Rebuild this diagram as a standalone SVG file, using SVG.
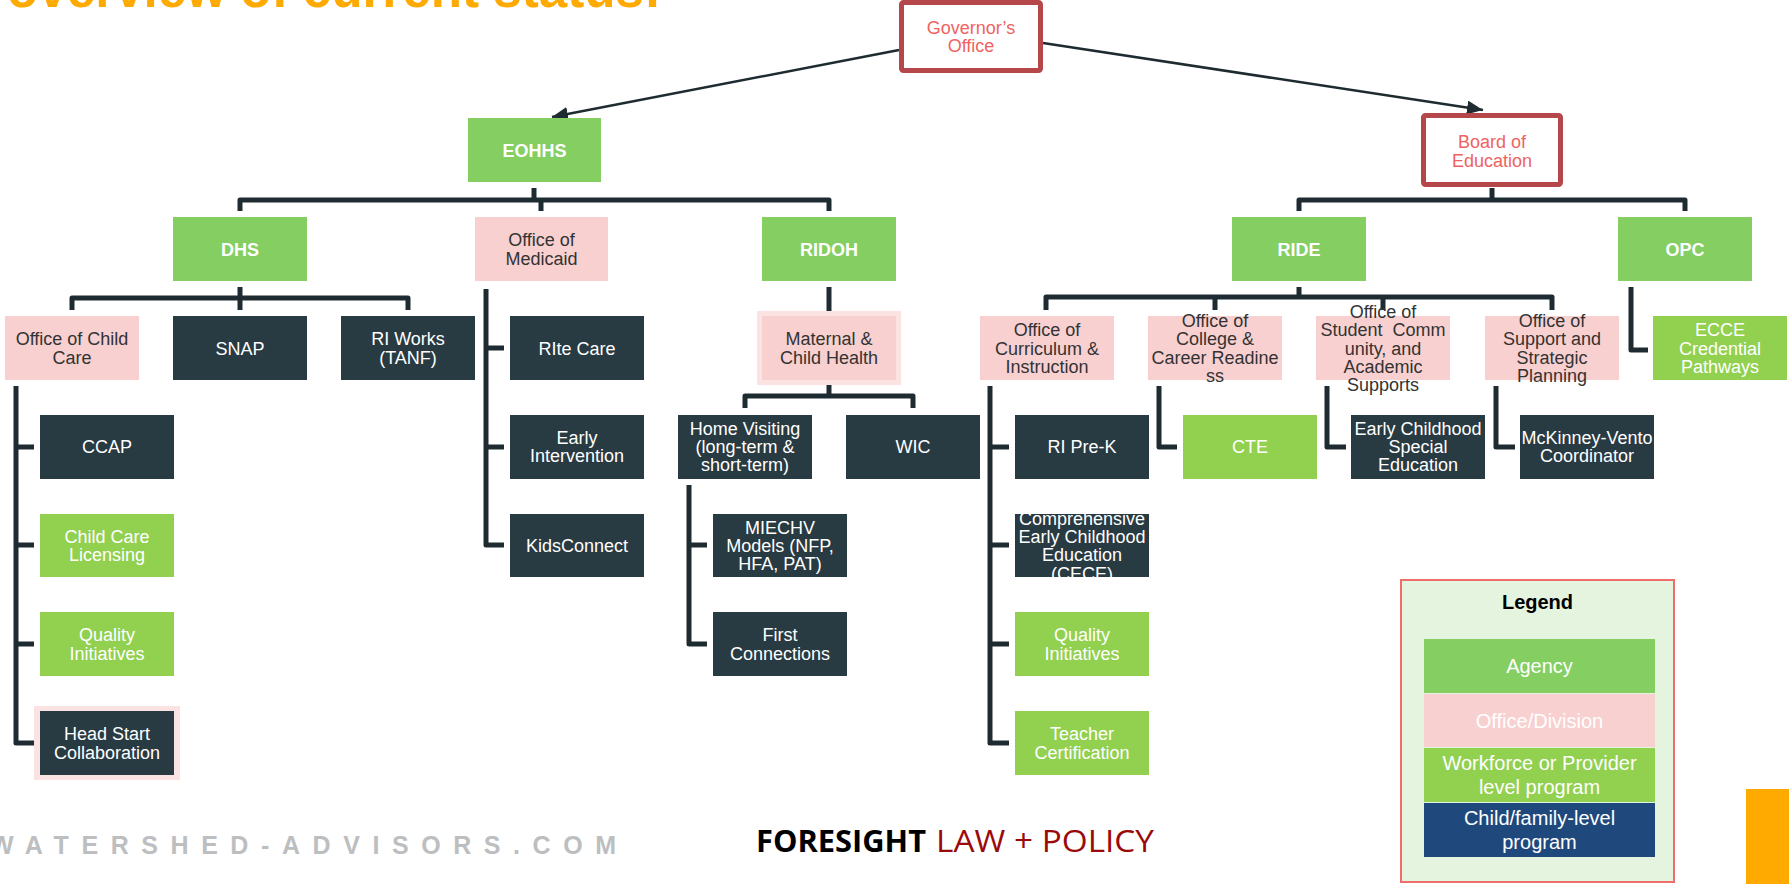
<svg xmlns="http://www.w3.org/2000/svg" width="1789" height="884" viewBox="0 0 1789 884">
<style>
.ag{fill:#84CE62}
.of{fill:#F8D0D0}
.dk{fill:#283A42}
.pg{fill:#92D050}
.halo{fill:#FCE3E3}
text{font-family:"Liberation Sans",Arial,sans-serif;font-size:18px;text-anchor:middle}
.w{fill:#FFFFFF}
.d{fill:#333333}
.b{font-weight:bold}
.gov{fill:none;stroke:#B5474B;stroke-width:5}
.govt{fill:#F06262}
.con{fill:none;stroke:#1E2B30;stroke-width:5;stroke-linejoin:round;stroke-linecap:butt}
.arr{fill:none;stroke:#1E2B30;stroke-width:2.5}
.lg{font-size:20px}
</style>
<defs>
<marker id="ah" markerUnits="userSpaceOnUse" markerWidth="18" markerHeight="14" refX="16" refY="7" orient="auto">
<path d="M0,0 L16,7 L0,14 z" fill="#1E2B30"/>
</marker>
<clipPath id="clipCECE"><rect x="1015" y="514" width="134" height="63"/></clipPath>
<clipPath id="clipMCK"><rect x="1520" y="415" width="134" height="64"/></clipPath>
</defs>
<rect x="0" y="0" width="1789" height="884" fill="#FFFFFF"/>
<text x="7" y="7" textLength="654" lengthAdjust="spacingAndGlyphs" style="font-size:51px;font-weight:bold;fill:#FFAA00;text-anchor:start">overview of current status:</text>

<g id="connectors">
<path class="arr" d="M899,50 L552,117" marker-end="url(#ah)"/>
<path class="arr" d="M1043,43 L1483,110" marker-end="url(#ah)"/>
<path class="con" d="M534,188 V200"/>
<path class="con" d="M240,211 V200 H829 V211 M541,200 V211"/>
<path class="con" d="M1492,188 V200"/>
<path class="con" d="M1299,211 V200 H1685 V211"/>
<path class="con" d="M240,287 V298"/>
<path class="con" d="M72,310 V298 H408 V310 M240,298 V310"/>
<path class="con" d="M1299,287 V297"/>
<path class="con" d="M1046,310 V297 H1552 V310 M1215,297 V310 M1383,297 V310"/>
<path class="con" d="M1631,287 V350 H1648"/>
<path class="con" d="M486,289 V545 H504 M486,348 H504 M486,447 H504"/>
<path class="con" d="M829,287 V311"/>
<path class="con" d="M829,385 V396"/>
<path class="con" d="M745,408 V396 H913 V408"/>
<path class="con" d="M689,485 V644 H707 M689,545 H707"/>
<path class="con" d="M16,386 V743 H34 M16,447 H34 M16,545 H34 M16,644 H34"/>
<path class="con" d="M990,386 V743 H1009 M990,447 H1009 M990,545 H1009 M990,644 H1009"/>
<path class="con" d="M1159,386 V447 H1177"/>
<path class="con" d="M1327,386 V447 H1346"/>
<path class="con" d="M1496,386 V447 H1515"/>
</g>

<g id="governor">
<rect class="gov" x="901.5" y="2.5" width="139" height="68" rx="2" fill="#FFFFFF"/>
<text class="govt" x="971"><tspan x="971" y="34">Governor’s</tspan><tspan x="971" y="52.3">Office</tspan></text>
</g>
<g id="board">
<rect class="gov" x="1423.5" y="115.5" width="137" height="69" rx="2" fill="#FFFFFF"/>
<text class="govt"><tspan x="1492" y="148.4">Board of</tspan><tspan x="1492" y="166.7">Education</tspan></text>
</g>

<g id="eohhs"><rect class="ag" x="468" y="118" width="133" height="64"/><text class="w b" x="534.5" y="156.5">EOHHS</text></g>
<g id="dhs"><rect class="ag" x="173" y="217" width="134" height="64"/><text class="w b" x="240" y="255.5">DHS</text></g>
<g id="medicaid"><rect class="of" x="475" y="217" width="133" height="64"/><text class="d"><tspan x="541.5" y="246.4">Office of</tspan><tspan x="541.5" y="264.7">Medicaid</tspan></text></g>
<g id="ridoh"><rect class="ag" x="762" y="217" width="134" height="64"/><text class="w b" x="829" y="255.5">RIDOH</text></g>
<g id="ride"><rect class="ag" x="1232" y="217" width="134" height="64"/><text class="w b" x="1299" y="255.5">RIDE</text></g>
<g id="opc"><rect class="ag" x="1618" y="217" width="134" height="64"/><text class="w b" x="1685" y="255.5">OPC</text></g>

<g id="occ"><rect class="of" x="5" y="316" width="134" height="64"/><text class="d"><tspan x="72" y="345.4">Office of Child</tspan><tspan x="72" y="363.7">Care</tspan></text></g>
<g id="snap"><rect class="dk" x="173" y="316" width="134" height="64"/><text class="w" x="240" y="354.5">SNAP</text></g>
<g id="riworks"><rect class="dk" x="341" y="316" width="134" height="64"/><text class="w"><tspan x="408" y="345.4">RI Works</tspan><tspan x="408" y="363.7">(TANF)</tspan></text></g>
<g id="ritecare"><rect class="dk" x="510" y="316" width="134" height="64"/><text class="w" x="577" y="354.5">RIte Care</text></g>
<g id="mch"><rect class="halo" x="757" y="311" width="144" height="74"/><rect class="of" x="762" y="316" width="134" height="64"/><text class="d"><tspan x="829" y="345.4">Maternal &amp;</tspan><tspan x="829" y="363.7">Child Health</tspan></text></g>
<g id="curriculum"><rect class="of" x="980" y="316" width="134" height="64"/><text class="d"><tspan x="1047" y="336.2">Office of</tspan><tspan x="1047" y="354.5">Curriculum &amp;</tspan><tspan x="1047" y="372.8">Instruction</tspan></text></g>
<g id="college"><rect class="of" x="1148" y="316" width="134" height="64"/><text class="d"><tspan x="1215" y="327.1">Office of</tspan><tspan x="1215" y="345.4">College &amp;</tspan><tspan x="1215" y="363.7">Career Readine</tspan><tspan x="1215" y="382">ss</tspan></text></g>
<g id="student"><rect class="of" x="1316" y="316" width="134" height="64"/><text class="d" style="white-space:pre"><tspan x="1383" y="317.9">Office of</tspan><tspan x="1383" y="336.2">Student  Comm</tspan><tspan x="1383" y="354.5">unity, and</tspan><tspan x="1383" y="372.8">Academic</tspan><tspan x="1383" y="391.1">Supports</tspan></text></g>
<g id="support"><rect class="of" x="1485" y="316" width="134" height="64"/><text class="d"><tspan x="1552" y="327.1">Office of</tspan><tspan x="1552" y="345.4">Support and</tspan><tspan x="1552" y="363.7">Strategic</tspan><tspan x="1552" y="382">Planning</tspan></text></g>
<g id="ecce"><rect class="pg" x="1653" y="316" width="134" height="64"/><text class="w"><tspan x="1720" y="336.2">ECCE</tspan><tspan x="1720" y="354.5">Credential</tspan><tspan x="1720" y="372.8">Pathways</tspan></text></g>

<g id="ccap"><rect class="dk" x="40" y="415" width="134" height="64"/><text class="w" x="107" y="453">CCAP</text></g>
<g id="earlyint"><rect class="dk" x="510" y="415" width="134" height="64"/><text class="w"><tspan x="577" y="443.9">Early</tspan><tspan x="577" y="462.2">Intervention</tspan></text></g>
<g id="homevisiting"><rect class="dk" x="678" y="415" width="134" height="64"/><text class="w"><tspan x="745" y="434.7">Home Visiting</tspan><tspan x="745" y="453">(long-term &amp;</tspan><tspan x="745" y="471.3">short-term)</tspan></text></g>
<g id="wic"><rect class="dk" x="846" y="415" width="134" height="64"/><text class="w" x="913" y="453">WIC</text></g>
<g id="riprek"><rect class="dk" x="1015" y="415" width="134" height="64"/><text class="w" x="1082" y="453">RI Pre-K</text></g>
<g id="cte"><rect class="pg" x="1183" y="415" width="134" height="64"/><text class="w" x="1250" y="453">CTE</text></g>
<g id="ecse"><rect class="dk" x="1351" y="415" width="134" height="64"/><text class="w"><tspan x="1418" y="434.7">Early Childhood</tspan><tspan x="1418" y="453">Special</tspan><tspan x="1418" y="471.3">Education</tspan></text></g>
<g id="mckinney"><rect class="dk" x="1520" y="415" width="134" height="64"/><text class="w" clip-path="url(#clipMCK)"><tspan x="1587" y="443.9">McKinney-Vento</tspan><tspan x="1587" y="462.2">Coordinator</tspan></text></g>

<g id="licensing"><rect class="pg" x="40" y="514" width="134" height="63"/><text class="w"><tspan x="107" y="542.9">Child Care</tspan><tspan x="107" y="561.2">Licensing</tspan></text></g>
<g id="kidsconnect"><rect class="dk" x="510" y="514" width="134" height="63"/><text class="w" x="577" y="552">KidsConnect</text></g>
<g id="miechv"><rect class="dk" x="713" y="514" width="134" height="63"/><text class="w"><tspan x="780" y="533.7">MIECHV</tspan><tspan x="780" y="552">Models (NFP,</tspan><tspan x="780" y="570.3">HFA, PAT)</tspan></text></g>
<g id="cece"><rect class="dk" x="1015" y="514" width="134" height="63"/><text class="w" clip-path="url(#clipCECE)"><tspan x="1082" y="524.6">Comprehensive</tspan><tspan x="1082" y="542.9">Early Childhood</tspan><tspan x="1082" y="561.2">Education</tspan><tspan x="1082" y="579.5">(CECE)</tspan></text></g>

<g id="quality1"><rect class="pg" x="40" y="612" width="134" height="64"/><text class="w"><tspan x="107" y="641.4">Quality</tspan><tspan x="107" y="659.7">Initiatives</tspan></text></g>
<g id="firstconnections"><rect class="dk" x="713" y="612" width="134" height="64"/><text class="w"><tspan x="780" y="641.4">First</tspan><tspan x="780" y="659.7">Connections</tspan></text></g>
<g id="quality2"><rect class="pg" x="1015" y="612" width="134" height="64"/><text class="w"><tspan x="1082" y="641.4">Quality</tspan><tspan x="1082" y="659.7">Initiatives</tspan></text></g>

<g id="headstart"><rect class="halo" x="34" y="706" width="146" height="74"/><rect class="dk" x="40" y="711" width="134" height="64"/><text class="w"><tspan x="107" y="740.4">Head Start</tspan><tspan x="107" y="758.7">Collaboration</tspan></text></g>
<g id="teacher"><rect class="pg" x="1015" y="711" width="134" height="64"/><text class="w"><tspan x="1082" y="740.4">Teacher</tspan><tspan x="1082" y="758.7">Certification</tspan></text></g>

<g id="legend">
<rect x="1401" y="580" width="273" height="302" fill="#E5F4DE" stroke="#EE6E6E" stroke-width="2"/>
<text class="lg b" x="1537.5" y="609" fill="#000000">Legend</text>
<rect class="ag" x="1424" y="639" width="231" height="54"/>
<text class="w lg" x="1539.5" y="673">Agency</text>
<rect class="of" x="1424" y="694" width="231" height="53"/>
<text class="w lg" x="1539.5" y="727.5">Office/Division</text>
<rect class="pg" x="1424" y="748" width="231" height="54"/>
<text class="w lg"><tspan x="1539.5" y="770">Workforce or Provider</tspan><tspan x="1539.5" y="794">level program</tspan></text>
<rect x="1424" y="803" width="231" height="54" fill="#1F497D"/>
<text class="w lg"><tspan x="1539.5" y="825">Child/family-level</tspan><tspan x="1539.5" y="849">program</tspan></text>
</g>

<rect x="1746" y="789" width="43" height="95" fill="#FFAA00"/>
<text x="-10" y="854" textLength="626" lengthAdjust="spacing" style="font-size:25px;font-weight:bold;fill:#BCBEC0;text-anchor:start">WATERSHED-ADVISORS.COM</text>
<text x="756" y="852" textLength="170" lengthAdjust="spacingAndGlyphs" style="font-family:'Open Sans',sans-serif;font-size:31px;font-weight:bold;fill:#000000;text-anchor:start">FORESIGHT</text>
<text x="936" y="852" textLength="218" lengthAdjust="spacingAndGlyphs" style="font-family:'Open Sans',sans-serif;font-size:31px;fill:#9B0A0A;text-anchor:start">LAW + POLICY</text>
</svg>
